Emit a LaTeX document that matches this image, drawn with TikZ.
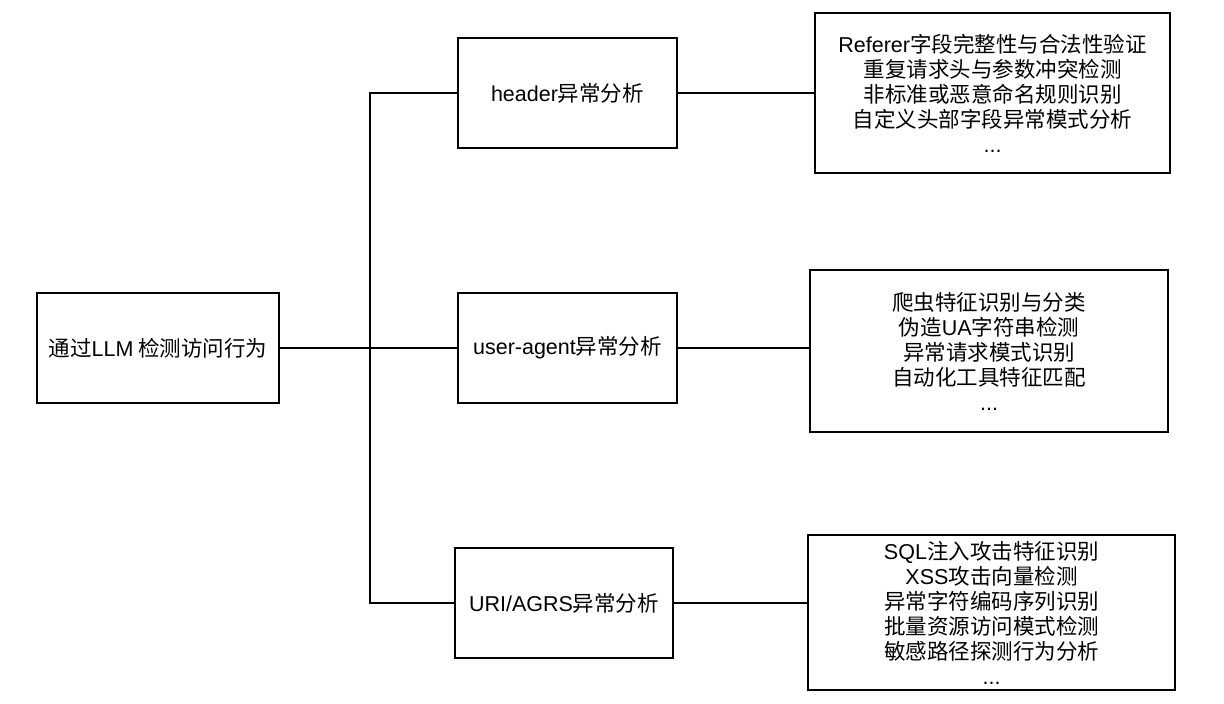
\documentclass[tikz,border=0pt]{standalone}
\usepackage{fontspec}
\setmainfont{Noto Sans CJK SC}
\newfontfamily\latfont{Liberation Sans}
\newcommand{\lt}[1]{{\latfont #1}}
\begin{document}
\begin{tikzpicture}[x=1pt,y=-1pt,
  box/.style={draw,line width=1.5pt,minimum width=#1,inner sep=0pt,align=center,font=\fontsize{21.5}{25}\selectfont},
  conn/.style={line width=1.5pt}]
\useasboundingbox[fill=white] (0,0) rectangle (1224,704);
\node[box=242pt,minimum height=110pt] (root) at (158,348) {通过\lt{LLM} 检测访问行为};
\node[box=219pt,minimum height=110pt] (hdr) at (567.5,93) {\lt{header}异常分析};
\node[box=219pt,minimum height=110pt] (ua) at (567.5,348) {\lt{user-agent}异常分析};
\node[box=218pt,minimum height=110pt] (uri) at (564,603) {\lt{URI/AGRS}异常分析};
\node[box=355pt,minimum height=160pt] (d1) at (992.5,93) {\lt{Referer}字段完整性与合法性验证\\重复请求头与参数冲突检测\\非标准或恶意命名规则识别\\自定义头部字段异常模式分析\\\lt{...}};
\node[box=358pt,minimum height=162pt] (d2) at (989,351) {爬虫特征识别与分类\\伪造\lt{UA}字符串检测\\异常请求模式识别\\自动化工具特征匹配\\\lt{...}};
\node[box=367pt,minimum height=155pt] (d3) at (991.5,612.5) {\lt{SQL}注入攻击特征识别\\\lt{XSS}攻击向量检测\\异常字符编码序列识别\\批量资源访问模式检测\\敏感路径探测行为分析\\\lt{...}};
\coordinate (j) at (370,348);
\draw[conn] (root.east) -- (j);
\draw[conn] (j) |- (hdr.west);
\draw[conn] (j) -- (ua.west);
\draw[conn] (j) |- (uri.west);
\draw[conn] (hdr.east) -- (hdr.east -| d1.west);
\draw[conn] (ua.east) -- (ua.east -| d2.west);
\draw[conn] (uri.east) -- (uri.east -| d3.west);
\end{tikzpicture}
\end{document}
